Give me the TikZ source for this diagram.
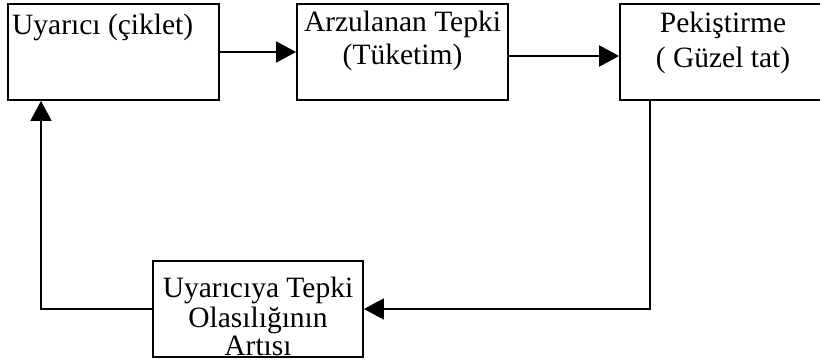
\documentclass[tikz,border=0pt]{standalone}
\usepackage{fontspec}
\setmainfont{Liberation Serif}
\usetikzlibrary{arrows.meta}
\begin{document}
\begin{tikzpicture}[x=1pt,y=-1pt,
  box/.style={draw=black,line width=1.8pt,minimum height=96pt,inner sep=0pt},
  txt/.style={font=\fontsize{29.5}{33}\selectfont,inner sep=0pt,anchor=base},
  arr/.style={line width=1.8pt,-{Triangle[length=20pt,width=21pt]}}]
\clip (0,0) rectangle (820,361);
\fill[white] (0,0) rectangle (820,361);
% boxes
\node[box,minimum width=211pt] (b1) at (113.5,52) {};
\node[box,minimum width=211pt] (b2) at (402.5,52) {};
\node[box,minimum width=206pt] (b3) at (723,52) {};
\node[box,minimum width=210pt] (b4) at (258,309) {};
% texts
\node[txt,anchor=base west] (t1) at (12,35) {Uyarıcı (çiklet)};
\node[txt] (t2a) at (402.5,32) {Arzulanan Tepki};
\node[txt] (t2b) at (402.5,65) {(Tüketim)};
\node[txt] (t3a) at (723,33) {Pekiştirme};
\node[txt] (t3b) at (723,67) {( Güzel tat)};
\node[txt] (t4a) at (258,297) {Uyarıcıya Tepki};
\node[txt] (t4b) at (258,327) {Olasılığının};
\node[txt] (t4c) at (258,355) {Artısı};
% connectors
\draw[arr] (b1.east) -- (b2.west);
\draw[arr] ([yshift=-4pt]b2.east) -- ([yshift=-4pt]b3.west);
\coordinate (c1) at (650,309);
\coordinate (c2) at (41,309);
\draw[arr] (b3.south -| c1) -- (c1) -- (b4.east);
\draw[arr] (b4.west) -- (c2) -- (c2 |- b1.south);
\end{tikzpicture}
\end{document}
